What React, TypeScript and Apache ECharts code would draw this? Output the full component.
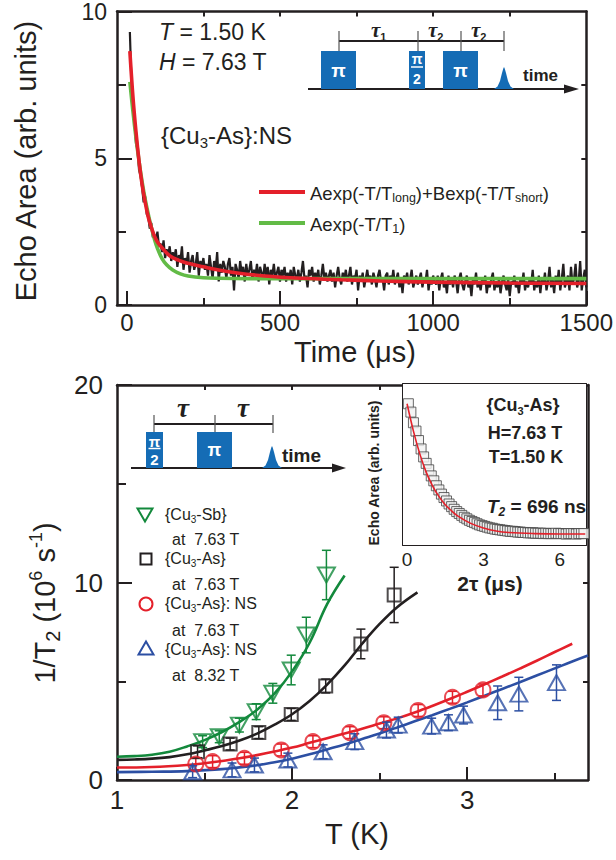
import React, { useEffect, useRef } from 'react';
import * as echarts from 'echarts';

const FONT = '"Liberation Sans", Arial, Helvetica, sans-serif';
const SERIF = '"Liberation Serif", "DejaVu Serif", serif';
const INK = '#231f20';
const RED = '#e4202a';
const LIME = '#62bb46';
const GREEN = '#13893c';
const BLUE = '#2c4fa3';
const PULSE = '#156cb5';

// ---------- top panel: echo area vs time ----------
const echoStartUs = 10;
const echoStepUs = 5;
const echoArea = [
  9.3, 7.6, 6.9, 6.2, 5.5, 5.3, 4.6, 4.4, 4.0, 3.5,
  3.7, 3.1, 3.0, 2.6, 2.8, 2.3, 2.4, 2.2, 2.5, 2.0,
  2.1, 1.8, 2.2, 1.6, 1.9, 1.7, 2.0, 1.5, 1.8, 1.6,
  1.9, 1.3, 1.7, 1.5, 2.0, 1.2, 1.6, 1.4, 1.8, 1.1,
  1.5, 1.7, 1.2, 1.4, 1.8, 1.0, 1.5, 1.3, 1.6, 1.2,
  1.4, 1.0, 1.7, 1.3, 0.9, 1.5, 1.2, 1.8, 0.8, 1.4,
  1.1, 1.5, 1.3, 0.9, 1.4, 1.6, 1.0, 1.3, 0.5, 1.4,
  1.2, 0.9, 1.5, 1.1, 1.3, 0.8, 1.4, 1.0, 1.2, 1.5,
  0.9, 1.2, 1.0, 1.4, 0.8, 1.3, 1.1, 0.9, 1.4, 1.0,
  1.3, 0.7, 1.2, 1.0, 1.4, 0.9, 1.1, 1.3, 0.8, 1.2,
  1.0, 1.3, 0.8, 1.1, 0.9, 1.2, 0.7, 1.3, 1.0, 0.9,
  1.2, 0.8, 1.1, 1.5, 0.9, 1.0, 0.6, 1.2, 1.0, 1.3,
  0.8, 1.1, 0.9, 1.2, 0.7, 1.0, 1.4, 0.9, 1.1, 0.8,
  1.0, 1.2, 0.8, 1.1, 0.6, 1.0, 1.3, 0.9, 0.7, 1.1,
  0.9, 1.2, 0.8, 1.0, 1.3, 0.7, 1.0, 0.9, 1.2, 0.5,
  1.0, 0.8, 1.1, 0.6, 0.9, 1.2, 0.8, 1.0, 0.7, 1.1,
  0.9, 0.6, 1.0, 1.2, 0.8, 0.9, 0.5, 1.0, 1.1, 0.7,
  1.0, 0.8, 1.2, 0.7, 0.9, 1.1, 0.6, 0.9, 0.4, 1.0,
  0.8, 1.1, 0.7, 0.9, 1.2, 0.6, 0.8, 1.0, 0.7, 0.9,
  1.1, 0.6, 0.9, 0.8, 1.2, 0.5, 0.9, 0.7, 1.0, 0.8,
  0.7, 1.0, 0.5, 0.9, 1.1, 0.6, 0.8, 0.4, 1.0, 0.7,
  0.9, 0.6, 1.0, 0.8, 0.4, 0.9, 1.1, 0.7, 0.5, 0.8,
  1.0, 0.6, 0.8, 0.3, 0.9, 0.7, 1.1, 0.6, 0.8, 0.5,
  0.9, 0.7, 1.0, 0.4, 0.8, 0.6, 0.9, 1.1, 0.5, 0.8,
  0.6, 0.9, 0.4, 0.8, 1.0, 0.7, 0.5, 0.9, 0.3, 0.8,
  0.7, 1.0, 0.6, 0.8, 0.4, 0.9, 0.7, 1.1, 0.5, 0.8,
  0.6, 0.9, 0.7, 1.2, 0.5, 0.8, 0.6, 1.0, 0.4, 0.9,
  0.7, 1.1, 0.5, 0.8, 1.3, 0.6, 0.9, 0.4, 1.0, 0.7,
  1.2, 0.5, 0.9, 1.4, 0.6, 0.8, 1.0, 0.5, 1.3, 0.7,
  0.9, 1.4, 0.6, 0.8, 1.5, 0.5, 0.9, 1.2, 0.6,
];
const fitTwoExp = [
  [10, 8.65], [20, 7.1], [30, 5.9], [40, 4.9], [50, 4.1], [60, 3.5], [70, 3.0], [80, 2.65],
  [90, 2.35], [100, 2.15], [115, 1.95], [140, 1.68], [170, 1.52], [200, 1.42], [250, 1.3],
  [300, 1.19], [360, 1.09], [450, 0.99], [575, 0.91], [700, 0.86], [827, 0.82], [1000, 0.78],
  [1250, 0.75], [1500, 0.73],
];
const fitOneExp = [
  [10, 7.6], [20, 6.6], [30, 5.7], [40, 4.9], [50, 4.2], [60, 3.6], [70, 3.1], [80, 2.65],
  [90, 2.25], [100, 1.93], [115, 1.58], [130, 1.37], [150, 1.19], [175, 1.06], [200, 0.99],
  [250, 0.93], [300, 0.91], [400, 0.9], [1500, 0.9],
];
const topXLabels = [0, 500, 1000, 1500];
const topXMinor = [250, 750, 1250];
const topXMirror = [250, 500, 750, 1000, 1250];
const topYLabels = [0, 5, 10];
const topYMinor = [2.5, 7.5];
const topYMirror = [2.5, 5, 7.5];

// ---------- bottom panel: 1/T2 vs T ----------
const sbT = [1.489, 1.584, 1.699, 1.795, 1.89, 1.995, 2.081, 2.196];
const sbRate = [1.94, 2.19, 2.78, 3.46, 4.39, 5.57, 7.34, 10.38];
const sbErr = [0.3, 0.3, 0.35, 0.4, 0.5, 0.75, 0.9, 1.25];

const asT = [1.46, 1.646, 1.81, 1.995, 2.192, 2.393, 2.583];
const asRate = [1.43, 1.82, 2.4, 3.32, 4.76, 6.89, 9.37];
const asErr = [0.3, 0.3, 0.3, 0.3, 0.35, 0.75, 1.4];

const ns763T = [1.45, 1.546, 1.728, 1.938, 2.119, 2.33, 2.524, 2.72, 2.916, 3.09];
const ns763Rate = [0.81, 0.93, 1.1, 1.52, 1.94, 2.4, 2.9, 3.52, 4.19, 4.56];
const ns763Err = [0.3, 0.3, 0.3, 0.3, 0.3, 0.3, 0.3, 0.3, 0.3, 0.3];

const ns832T = [1.432, 1.657, 1.785, 1.976, 2.177, 2.358, 2.539, 2.606, 2.797, 2.893, 2.979, 3.174, 3.295, 3.51];
const ns832Rate = [0.42, 0.51, 0.76, 1.01, 1.43, 1.94, 2.53, 2.78, 2.73, 2.9, 3.29, 3.91, 4.35, 4.93];
const ns832Err = [0.3, 0.35, 0.35, 0.35, 0.35, 0.4, 0.4, 0.4, 0.4, 0.4, 0.45, 0.85, 0.85, 0.9];

const sbFit = [[1, 1.18], [1.1, 1.21], [1.2, 1.28], [1.3, 1.43], [1.4, 1.7], [1.5, 2.02], [1.6, 2.43], [1.7, 2.94], [1.8, 3.56], [1.9, 4.38], [2.0, 5.5], [2.1, 6.95], [2.2, 8.9], [2.3, 10.35]];
const asFit = [[1, 1.02], [1.1, 1.04], [1.2, 1.08], [1.3, 1.16], [1.4, 1.3], [1.5, 1.5], [1.6, 1.72], [1.7, 2.0], [1.8, 2.35], [1.9, 2.8], [2.0, 3.33], [2.1, 4.0], [2.2, 4.83], [2.3, 5.8], [2.4, 6.9], [2.5, 7.9], [2.6, 8.75], [2.716, 9.5]];
const ns763Fit = [[1, 0.63], [1.2, 0.66], [1.4, 0.76], [1.5, 0.85], [1.6, 0.96], [1.7, 1.1], [1.8, 1.26], [1.9, 1.44], [2.0, 1.64], [2.1, 1.88], [2.2, 2.12], [2.3, 2.36], [2.4, 2.6], [2.5, 2.86], [2.6, 3.12], [2.7, 3.42], [2.8, 3.75], [2.9, 4.1], [3.0, 4.47], [3.1, 4.85], [3.2, 5.24], [3.3, 5.64], [3.4, 6.05], [3.5, 6.48], [3.6, 6.9]];
const ns832Fit = [[1, 0.4], [1.2, 0.42], [1.4, 0.45], [1.6, 0.55], [1.8, 0.75], [1.9, 0.9], [2.0, 1.08], [2.1, 1.3], [2.2, 1.55], [2.3, 1.8], [2.4, 2.08], [2.5, 2.36], [2.6, 2.66], [2.7, 2.97], [2.8, 3.28], [2.9, 3.6], [3.0, 3.93], [3.1, 4.27], [3.2, 4.61], [3.3, 4.95], [3.4, 5.3], [3.5, 5.65], [3.6, 6.0], [3.69, 6.3]];

const botXLabels = [1, 2, 3];
const botXMinor = [1.5, 2.5, 3.5];
const botXMirror = [1.5, 2, 2.5];
const botYLabels = [0, 10, 20];
const botYMinor = [5, 15];
const botYMirror = [5, 10];

// ---------- inset: echo area vs 2tau ----------
const insetStartUs = 0.05;
const insetStepUs = 0.1;
const insetEcho = [
  3.52, 3.30, 3.02, 2.80, 2.55, 2.33, 2.12, 1.95, 1.78, 1.62,
  1.49, 1.36, 1.25, 1.14, 1.05, 0.96, 0.88, 0.81, 0.74, 0.68,
  0.63, 0.58, 0.53, 0.49, 0.45, 0.42, 0.39, 0.36, 0.33, 0.31,
  0.29, 0.27, 0.25, 0.24, 0.22, 0.21, 0.20, 0.19, 0.18, 0.17,
  0.16, 0.16, 0.15, 0.14, 0.14, 0.13, 0.13, 0.12, 0.12, 0.12,
  0.11, 0.11, 0.11, 0.10, 0.11, 0.10, 0.10, 0.10, 0.11, 0.10,
  0.10, 0.10, 0.09, 0.10, 0.10, 0.10, 0.09, 0.10, 0.10, 0.10,
];
const insetFit = [[0, 3.52], [0.25, 2.8], [0.5, 2.2], [0.75, 1.72], [1.0, 1.36], [1.25, 1.08], [1.5, 0.86], [1.75, 0.7], [2.0, 0.56], [2.5, 0.37], [3.0, 0.25], [3.5, 0.17], [4.0, 0.13], [5.0, 0.1], [6.0, 0.09], [7.0, 0.09]];
const insetXLabels = [0, 3, 6];
const insetXTicks = [0, 1.5, 3, 4.5, 6];
const insetYTicks = [0, 1, 2, 3];

// ---------- helpers ----------
function axis(gridIndex: number, min: number, max: number, position: string, o: any) {
  return {
    type: 'value', gridIndex, min, max, position,
    axisLine: { show: !!o.line, onZero: false, lineStyle: { color: INK, width: o.lineW ?? 2.5 } },
    axisTick: { show: (o.ticks || []).length > 0, inside: true, length: o.len ?? 5, customValues: o.ticks || [], lineStyle: { color: INK, width: 2 } },
    axisLabel: o.labels
      ? { show: true, customValues: o.labels, margin: o.margin ?? 8, fontSize: o.size, fontFamily: FONT, color: INK, formatter: (v: number) => String(v) }
      : { show: false },
    splitLine: { show: false },
    splitArea: { show: false },
    minorTick: { show: false },
    z: 3,
  };
}

function rs(size: number, o: any = {}) {
  return {
    fontSize: size, fontFamily: o.family ?? FONT, fontWeight: o.weight ?? 'normal', fontStyle: o.style ?? 'normal',
    fill: o.color ?? INK, lineHeight: o.lh, verticalAlign: o.va ?? 'middle',
  };
}

function txt(x: number, y: number, text: string, o: any = {}) {
  return {
    type: 'text', x, y, rotation: o.rotation ?? 0, z: 20, silent: true,
    style: {
      text, fontSize: o.size ?? 16, fontFamily: o.family ?? FONT, fontWeight: o.weight ?? 'normal',
      fontStyle: o.style ?? 'normal', fill: o.color ?? INK, align: o.align ?? 'left', verticalAlign: 'middle',
      lineHeight: o.lh, rich: o.rich,
    },
  };
}

function seg(x1: number, y1: number, x2: number, y2: number, color = INK, w = 1.6) {
  return { type: 'line', z: 20, silent: true, shape: { x1, y1, x2, y2 }, style: { stroke: color, lineWidth: w } };
}

function box(x: number, y: number, w: number, h: number, fill: string) {
  return { type: 'rect', z: 20, silent: true, shape: { x, y, width: w, height: h }, style: { fill } };
}

function errorSeries(xs: number[], ys: number[], es: number[], color: string, xi: number, yi: number) {
  return {
    type: 'custom', xAxisIndex: xi, yAxisIndex: yi, z: 4, clip: false, silent: true,
    data: xs.map((x, i) => [x, ys[i], es[i]]),
    renderItem: (_p: any, api: any) => {
      const x = api.value(0), y = api.value(1), e = api.value(2);
      const a = api.coord([x, y + e]);
      const b = api.coord([x, y - e]);
      const st = { stroke: color, lineWidth: 1.5 };
      return {
        type: 'group',
        children: [
          { type: 'line', shape: { x1: a[0], y1: a[1], x2: b[0], y2: b[1] }, style: st },
          { type: 'line', shape: { x1: a[0] - 4.5, y1: a[1], x2: a[0] + 4.5, y2: a[1] }, style: st },
          { type: 'line', shape: { x1: b[0] - 4.5, y1: b[1], x2: b[0] + 4.5, y2: b[1] }, style: st },
        ],
      };
    },
  };
}

function markerSeries(xs: number[], ys: number[], color: string, symbol: string, size: any, rotate = 0) {
  return {
    type: 'scatter', xAxisIndex: 3, yAxisIndex: 3, z: 5, silent: true,
    symbol, symbolSize: size, symbolRotate: rotate,
    data: xs.map((x, i) => [x, ys[i]]),
    itemStyle: { color: 'rgba(255,255,255,0)', borderColor: color, borderWidth: 2 },
  };
}

function fitSeries(d: number[][], color: string, xi: number, yi: number, w = 2.6) {
  return {
    type: 'line', xAxisIndex: xi, yAxisIndex: yi, data: d, showSymbol: false, symbol: 'none',
    smooth: 0.4,
    lineStyle: { color, width: w }, z: 3, silent: true,
  };
}

const SUB = (size: number, lh: number, o: any = {}) => rs(size, { ...o, lh, va: 'bottom' });
const SUP = (size: number, lh: number, o: any = {}) => rs(size, { ...o, lh, va: 'top' });

function buildGraphics() {
  const g: any[] = [];
  // top-panel annotations
  g.push(txt(159, 32, '{i|T} = 1.50 K', { size: 23, lh: 28, rich: { i: rs(23, { style: 'italic', lh: 28 }) } }));
  g.push(txt(159, 62, '{i|H} = 7.63 T', { size: 23, lh: 28, rich: { i: rs(23, { style: 'italic', lh: 28 }) } }));
  g.push(txt(161, 135, '{Cu{s|3}-As}:NS', { size: 24, lh: 30, rich: { s: SUB(15, 8) } }));
  g.push(seg(259, 192, 305, 192, RED, 4));
  g.push(txt(310, 193, 'Aexp(-T/T{s|long})+Bexp(-T/T{s|short})', { size: 18.5, lh: 22, rich: { s: SUB(12.5, 9) } }));
  g.push(seg(259, 223, 305, 223, LIME, 4));
  g.push(txt(310, 224, 'Aexp(-T/T{s|1})', { size: 18.5, lh: 22, rich: { s: SUB(12.5, 9) } }));

  // top pulse sequence
  g.push(seg(308, 89, 566, 89, INK, 2));
  g.push({ type: 'polygon', z: 20, silent: true, shape: { points: [[564, 84.5], [579, 89], [564, 93.5]] }, style: { fill: INK } });
  g.push(box(321, 51, 35, 38, PULSE));
  g.push(box(409, 51, 16, 38, PULSE));
  g.push(box(443, 51, 35, 38, PULSE));
  g.push({ type: 'polygon', z: 20, silent: true, shape: { points: [[494, 89], [497.5, 86.5], [500, 81], [502, 73], [503.3, 68.5], [504, 67], [504.7, 68.5], [506, 73], [508, 81], [510.5, 86.5], [514, 89]] }, style: { fill: PULSE } });
  g.push(txt(338.5, 70, 'π', { size: 19, weight: 'bold', color: '#fff', align: 'center' }));
  g.push(txt(460.5, 70, 'π', { size: 19, weight: 'bold', color: '#fff', align: 'center' }));
  g.push(txt(417, 59, 'π', { size: 14, weight: 'bold', color: '#fff', align: 'center' }));
  g.push(seg(411, 67, 423, 67, '#fff', 1.5));
  g.push(txt(417, 78.5, '2', { size: 14, weight: 'bold', color: '#fff', align: 'center' }));
  g.push(txt(523, 75, 'time', { size: 17, weight: 'bold' }));
  g.push(seg(339, 41, 504, 41, INK, 2));
  g.push(seg(339, 31, 339, 51, '#555', 1.2));
  g.push(seg(418, 31, 418, 51, '#555', 1.2));
  g.push(seg(461, 31, 461, 51, '#555', 1.2));
  g.push(seg(504, 31, 504, 51, '#555', 1.2));
  const tauRich = { t: rs(21, { family: SERIF, weight: 'bold', style: 'italic', lh: 24 }), s: SUB(11, 8, { weight: 'bold' }) };
  g.push(txt(371, 30, '{t|τ}{s|1}', { size: 21, lh: 24, rich: tauRich }));
  g.push(txt(428, 30, '{t|τ}{s|2}', { size: 21, lh: 24, rich: tauRich }));
  g.push(txt(471, 30, '{t|τ}{s|2}', { size: 21, lh: 24, rich: tauRich }));

  // axis titles
  g.push(txt(26, 161, 'Echo Area (arb. units)', { size: 29, align: 'center', rotation: Math.PI / 2 }));
  g.push(txt(355, 352, 'Time (μs)', { size: 29, align: 'center' }));
  g.push(txt(45, 603, '1/T{s|2} (10{p|6} s{p|-1})', {
    size: 29, lh: 36, align: 'center', rotation: Math.PI / 2,
    rich: { s: SUB(20, 16), p: SUP(18, 14) },
  }));
  g.push(txt(357, 834, 'T (K)', { size: 29, align: 'center' }));

  // bottom pulse sequence
  g.push(seg(131, 468, 334, 468, INK, 2));
  g.push({ type: 'polygon', z: 20, silent: true, shape: { points: [[332, 463.5], [346, 468], [332, 472.5]] }, style: { fill: INK } });
  g.push(box(146, 432, 17, 36, PULSE));
  g.push(box(197, 432, 35, 36, PULSE));
  g.push({ type: 'polygon', z: 20, silent: true, shape: { points: [[262, 468], [265.5, 465.5], [268, 460], [270, 452], [271.3, 447.5], [272, 446], [272.7, 447.5], [274, 452], [276, 460], [278.5, 465.5], [282, 468]] }, style: { fill: PULSE } });
  g.push(txt(154.5, 441, 'π', { size: 15, weight: 'bold', color: '#fff', align: 'center' }));
  g.push(seg(148.5, 448.5, 160.5, 448.5, '#fff', 1.5));
  g.push(txt(154.5, 459, '2', { size: 15, weight: 'bold', color: '#fff', align: 'center' }));
  g.push(txt(214.5, 450, 'π', { size: 18, weight: 'bold', color: '#fff', align: 'center' }));
  g.push(txt(282, 455, 'time', { size: 19, weight: 'bold' }));
  g.push(seg(154, 424, 273, 424, INK, 2));
  g.push(seg(154, 415, 154, 432, '#555', 1.2));
  g.push(seg(215, 415, 215, 432, '#555', 1.2));
  g.push(seg(273, 415, 273, 433, '#555', 1.2));
  g.push(txt(183, 408, 'τ', { size: 27, family: SERIF, weight: 'bold', style: 'italic', align: 'center' }));
  g.push(txt(243, 408, 'τ', { size: 27, family: SERIF, weight: 'bold', style: 'italic', align: 'center' }));

  // bottom legend
  g.push({ type: 'polygon', z: 20, silent: true, shape: { points: [[137.5, 508.5], [152.5, 508.5], [145, 521.5]] }, style: { fill: 'none', stroke: GREEN, lineWidth: 2 } });
  g.push({ type: 'rect', z: 20, silent: true, shape: { x: 140.5, y: 553.5, width: 11, height: 11 }, style: { fill: 'none', stroke: INK, lineWidth: 2 } });
  g.push({ type: 'circle', z: 20, silent: true, shape: { cx: 146, cy: 604, r: 6.5 }, style: { fill: 'none', stroke: RED, lineWidth: 2 } });
  g.push({ type: 'polygon', z: 20, silent: true, shape: { points: [[138.5, 654.5], [153.5, 654.5], [146, 641.5]] }, style: { fill: 'none', stroke: BLUE, lineWidth: 2 } });
  const legRich = { s: SUB(10, 6) };
  g.push(txt(165, 514, '{Cu{s|3}-Sb}', { size: 16, lh: 20, rich: legRich }));
  g.push(txt(172, 539, 'at  7.63 T', { size: 16 }));
  g.push(txt(165, 558, '{Cu{s|3}-As}', { size: 16, lh: 20, rich: legRich }));
  g.push(txt(172, 584, 'at  7.63 T', { size: 16 }));
  g.push(txt(165, 603, '{Cu{s|3}-As}: NS', { size: 16, lh: 20, rich: legRich }));
  g.push(txt(172, 630, 'at  7.63 T', { size: 16 }));
  g.push(txt(165, 649, '{Cu{s|3}-As}: NS', { size: 16, lh: 20, rich: legRich }));
  g.push(txt(172, 675, 'at  8.32 T', { size: 16 }));

  // inset annotations
  g.push(txt(523, 405, '{Cu{s|3}-As}', { size: 18, weight: 'bold', lh: 22, align: 'center', rich: { s: SUB(11, 8, { weight: 'bold' }) } }));
  g.push(txt(525, 433, 'H=7.63 T', { size: 18, weight: 'bold', align: 'center' }));
  g.push(txt(526, 457, 'T=1.50 K', { size: 18, weight: 'bold', align: 'center' }));
  g.push(txt(487, 506, '{i|T}{s|2} = 696 ns', {
    size: 19, weight: 'bold', lh: 24,
    rich: { i: rs(19, { weight: 'bold', style: 'italic', lh: 24 }), s: SUB(12, 6, { weight: 'bold', style: 'italic' }) },
  }));
  g.push(txt(374, 473, 'Echo Area (arb. units)', { size: 14, weight: 'bold', align: 'center', rotation: Math.PI / 2 }));
  g.push(txt(490, 583, '2τ (μs)', { size: 21, weight: 'bold', align: 'center' }));
  return g;
}

export default function App() {
  const ref = useRef<HTMLDivElement>(null);
  useEffect(() => {
    document.body.style.margin = '0';
    const chart = echarts.init(ref.current!, undefined, { renderer: 'svg' });
    const echoData = echoArea.map((v, i) => [echoStartUs + i * echoStepUs, v]);
    const insetData = insetEcho.map((v, i) => [insetStartUs + i * insetStepUs, v]);

    const xAxis = [
      axis(0, -32, 1500, 'bottom', { line: true, ticks: topXLabels, len: 14, labels: topXLabels, size: 24, margin: 5 }),
      axis(0, -32, 1500, 'bottom', { ticks: topXMinor, len: 7 }),
      axis(0, -32, 1500, 'top', { line: true, ticks: topXMirror, len: 5 }),
      axis(1, 1, 3.69, 'bottom', { line: true, ticks: botXLabels, len: 13, labels: botXLabels, size: 26, margin: 7 }),
      axis(1, 1, 3.69, 'bottom', { ticks: botXMinor, len: 7 }),
      axis(1, 1, 3.69, 'top', { line: true, ticks: botXMirror, len: 5 }),
      axis(2, -0.16, 7.03, 'bottom', { line: true, lineW: 2, ticks: insetXTicks, len: 5, labels: insetXLabels, size: 19, margin: 5 }),
      axis(2, -0.16, 7.03, 'top', { line: true, lineW: 2 }),
    ];
    const yAxis = [
      axis(0, 0, 10, 'left', { line: true, ticks: topYLabels, len: 15, labels: topYLabels, size: 23, margin: 10 }),
      axis(0, 0, 10, 'left', { ticks: topYMinor, len: 9 }),
      axis(0, 0, 10, 'right', { line: true, ticks: topYMirror, len: 5 }),
      axis(1, 0, 20, 'left', { line: true, ticks: botYLabels, len: 15, labels: botYLabels, size: 26, margin: 14 }),
      axis(1, 0, 20, 'left', { ticks: botYMinor, len: 9 }),
      axis(1, 0, 20, 'right', { line: true, ticks: botYMirror, len: 5 }),
      axis(2, -0.2, 4.04, 'left', { line: true, lineW: 2, ticks: insetYTicks, len: 5 }),
      axis(2, -0.2, 4.04, 'right', { line: true, lineW: 2, ticks: [1, 2, 3], len: 4 }),
    ];

    chart.setOption({
      animation: false,
      backgroundColor: '#fff',
      textStyle: { fontFamily: FONT },
      grid: [
        { left: 117, top: 7, width: 472, height: 298, containLabel: false },
        { left: 117, top: 385, width: 471, height: 395, containLabel: false },
        { left: 403, top: 384, width: 183, height: 161, containLabel: false, show: true, backgroundColor: '#fff', borderWidth: 0, z: 6 },
      ],
      xAxis,
      yAxis,
      series: [
        { type: 'line', xAxisIndex: 0, yAxisIndex: 0, data: echoData, showSymbol: false, symbol: 'none', lineStyle: { color: INK, width: 2.2 }, z: 2, silent: true },
        fitSeries(fitOneExp, LIME, 0, 0, 3.6),
        fitSeries(fitTwoExp, RED, 0, 0, 3.6),

        fitSeries(sbFit, GREEN, 3, 3),
        fitSeries(asFit, INK, 3, 3),
        fitSeries(ns763Fit, RED, 3, 3),
        fitSeries(ns832Fit, BLUE, 3, 3),
        errorSeries(sbT, sbRate, sbErr, GREEN, 3, 3),
        errorSeries(asT, asRate, asErr, INK, 3, 3),
        errorSeries(ns763T, ns763Rate, ns763Err, RED, 3, 3),
        errorSeries(ns832T, ns832Rate, ns832Err, BLUE, 3, 3),
        markerSeries(sbT, sbRate, GREEN, 'triangle', [17, 15], 180),
        markerSeries(asT, asRate, INK, 'rect', 13),
        markerSeries(ns763T, ns763Rate, RED, 'circle', 15),
        markerSeries(ns832T, ns832Rate, BLUE, 'triangle', [17, 15]),

        { type: 'scatter', xAxisIndex: 6, yAxisIndex: 6, data: insetData, symbol: 'rect', symbolSize: 10, z: 7, silent: true,
          itemStyle: { color: '#f2f2f2', borderColor: '#444', borderWidth: 1 } },
        { ...fitSeries(insetFit, RED, 6, 6, 1.6), z: 8 },
      ],
      graphic: buildGraphics(),
    });
    return () => chart.dispose();
  }, []);
  return <div ref={ref} style={{ width: 616, height: 860 }} />;
}
